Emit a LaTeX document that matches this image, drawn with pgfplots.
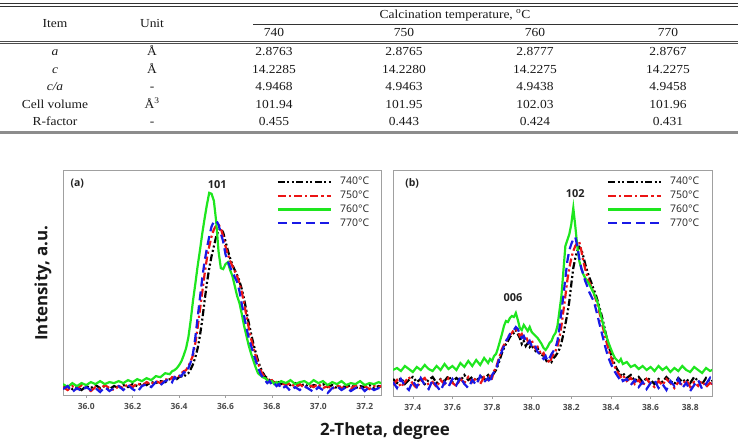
\documentclass[border=0pt]{standalone}
\usepackage{fontspec}
\setmainfont{Liberation Serif}
\newfontfamily\tabfont[FakeStretch=1.1]{Liberation Serif}
\newfontfamily\osans{Open Sans}
\usepackage{pgfplots}
\usepackage{pgfplotstable}
\pgfplotsset{compat=1.18}

\definecolor{mygreen}{RGB}{30,230,30}
\definecolor{myred}{RGB}{235,20,20}
\definecolor{myblue}{RGB}{25,25,230}
\definecolor{framegray}{RGB}{160,160,160}
\definecolor{tickgray}{RGB}{75,75,75}
\definecolor{txtgray}{RGB}{35,35,35}

\pgfplotstableread{
x t740 t750 t760 t770
35.90 7 8 11 6
35.92 9 5 8 9
35.94 6 9 12 3
35.96 8 6 9 7
35.98 5 10 12 4
36.00 9 7 10 8
36.02 7 4 13 5
36.04 10 8 11 7
36.06 7 6 14 3
36.08 9 10 11 8
36.10 6 7 13 4
36.12 9 5 12 7
36.14 7 9 14 9
36.16 10 7 12 5
36.18 8 11 15 10
36.20 11 8 13 6
36.22 9 12 16 3
36.24 12 9 14 9
36.26 10 13 17 11
36.28 13 11 15 8
36.30 12 14 19 13
36.32 14 12 18 10
36.34 13 16 22 14
36.36 16 15 21 16
36.37 15 18 24 13
36.38 17 17 25 18
36.39 16 20 27 16
36.40 18 19 30 20
36.41 19 22 34 19
36.42 18 24 40 23
36.43 21 25 47 22
36.44 22 29 58 27
36.45 26 34 75 33
36.46 31 40 95 42
36.47 38 52 112 58
36.48 47 68 130 78
36.49 60 86 146 98
36.50 76 104 163 118
36.51 95 122 178 135
36.52 113 138 192 148
36.53 128 150 204 160
36.54 140 160 203 170
36.55 150 167 196 175
36.56 160 171 175 176
36.57 166 172 145 172
36.58 168 168 128 163
36.59 164 160 127 155
36.60 155 150 132 142
36.61 146 142 134 135
36.62 138 135 126 129
36.63 131 130 120 124
36.64 126 125 110 119
36.65 121 120 100 114
36.66 115 113 93 105
36.67 107 104 82 92
36.68 97 93 70 80
36.69 85 80 60 68
36.70 73 68 50 58
36.71 62 57 42 50
36.72 52 48 35 42
36.73 43 40 28 35
36.74 35 32 22 28
36.75 28 26 20 22
36.76 23 21 18 18
36.77 19 18 17 15
36.78 17 16 15 12
36.79 15 14 13 14
36.80 14 15 14 10
36.81 13 12 11 12
36.82 12 13 13 9
36.83 13 10 12 11
36.84 11 12 14 6
36.86 12 10 12 9
36.88 10 12 15 4
36.90 12 8 11 8
36.92 9 11 13 5
36.94 11 7 14 9
36.96 8 10 11 6
36.98 10 8 15 3
37.00 9 11 12 8
37.02 11 7 14 5
37.04 8 9 10 2
37.06 10 6 13 7
37.08 7 10 11 9
37.10 9 7 14 5
37.12 8 9 10 8
37.14 10 6 12 4
37.16 7 10 11 7
37.18 9 7 14 9
37.20 8 9 10 4
37.22 10 6 12 8
37.24 7 9 11 5
37.26 9 8 13 7
37.28 8 10 11 6
}\tabA

\pgfplotstableread{
x t740 t750 t760 t770
37.30 17 11 26 14
37.32 13 16 28 8
37.34 18 9 25 17
37.36 12 14 30 10
37.38 16 19 27 6
37.40 19 12 24 15
37.42 14 8 29 9
37.44 17 15 26 18
37.46 12 18 31 11
37.48 16 11 27 7
37.50 19 14 25 16
37.52 13 9 30 10
37.54 17 16 26 5
37.56 15 12 32 14
37.58 20 18 27 9
37.60 14 13 30 17
37.62 18 10 26 11
37.64 15 17 33 19
37.66 21 13 29 12
37.68 16 19 35 8
37.70 19 14 30 16
37.72 15 18 36 11
37.74 20 12 31 20
37.76 17 19 38 14
37.78 21 16 33 18
37.79 18 20 37 13
37.80 20 18 35 21
37.81 23 25 40 24
37.82 26 28 42 27
37.83 31 35 48 33
37.84 37 41 55 40
37.85 43 47 62 45
37.86 48 51 70 50
37.87 52 54 75 55
37.88 55 59 74 58
37.89 59 61 78 62
37.90 61 63 80 64
37.91 63 66 79 66
37.92 66 67 83 69
37.93 62 64 76 67
37.94 58 60 68 62
37.95 52 62 66 58
37.96 55 57 71 60
37.97 50 60 68 55
37.98 53 55 65 52
37.99 49 53 69 55
38.00 51 56 64 50
38.01 47 50 62 47
38.02 45 47 60 49
38.03 48 49 58 44
38.04 43 45 55 42
38.05 40 41 52 39
38.06 42 43 48 37
38.07 37 38 46 40
38.08 33 36 49 35
38.09 36 33 53 38
38.10 34 38 55 42
38.11 38 42 60 45
38.12 40 45 63 48
38.13 43 50 70 55
38.14 47 58 85 68
38.15 53 70 100 85
38.16 62 85 125 100
38.17 72 100 150 118
38.18 82 116 156 135
38.19 95 128 162 146
38.20 112 138 172 152
38.21 128 145 188 157
38.22 138 150 170 159
38.23 145 153 150 150
38.24 149 154 135 138
38.25 147 146 128 128
38.26 140 135 122 122
38.27 132 127 118 115
38.28 125 120 115 110
38.29 119 114 112 104
38.30 114 110 108 100
38.31 108 104 104 96
38.32 103 99 100 90
38.33 97 92 95 82
38.34 90 85 88 74
38.35 83 77 80 66
38.36 75 68 72 58
38.37 66 60 64 50
38.38 57 52 58 43
38.39 49 45 52 37
38.40 42 39 47 32
38.41 36 33 42 28
38.42 31 29 38 24
38.43 27 25 36 21
38.44 24 22 34 18
38.45 21 19 37 20
38.46 23 21 32 15
38.48 18 15 34 17
38.50 21 18 29 11
38.52 15 12 31 16
38.54 19 16 27 9
38.56 14 10 30 14
38.58 18 17 26 7
38.60 16 12 29 13
38.62 12 9 25 16
38.64 17 15 30 8
38.66 14 11 26 12
38.68 19 17 29 6
38.70 15 13 24 15
38.72 12 8 28 10
38.74 18 14 25 17
38.76 14 11 30 8
38.78 17 16 26 13
38.80 13 9 24 5
38.82 19 14 29 11
38.84 15 10 26 16
38.86 12 15 23 7
38.88 18 9 28 12
38.90 14 13 25 18
38.92 16 11 27 10
}\tabB

\pgfplotsset{
  s740/.style={draw=black, line width=2.2bp, dash pattern=on 7bp off 2.5bp on 2bp off 2.5bp on 2bp off 2.5bp},
  s750/.style={draw=myred, line width=2.2bp, dash pattern=on 8bp off 3bp on 2.2bp off 3bp},
  s760/.style={draw=mygreen, line width=2.2bp},
  s770/.style={draw=myblue, line width=2.2bp, dash pattern=on 9bp off 5bp},
  xrdaxis/.style={
    anchor=south west, scale only axis,
    ymin=0, ytick=\empty,
    axis line style={draw=framegray, line width=0.8bp},
    tick style={draw=framegray, line width=0.6bp},
    tick align=outside, major tick length=2.5bp,
    xtick pos=lower,
    /pgf/number format/assume math mode=true,
    x tick label style={font=\fontsize{8.5}{9}\selectfont\osans\bfseries, text=tickgray,
      /pgf/number format/fixed, /pgf/number format/fixed zerofill, /pgf/number format/precision=1, yshift=-2.5bp},
    legend style={draw=none, fill=none, anchor=north west, inner sep=0pt,
      font=\fontsize{10.5}{11}\selectfont\osans,
      nodes={inner sep=0pt, text height=7.5bp, text depth=2bp},
      row sep=4.2bp, column sep=8bp},
    legend cell align=left,
    legend image code/.code={\draw[##1] (0bp,0bp) -- (53bp,0bp);},
  },
}

\begin{document}
\begin{tikzpicture}
\path[use as bounding box] (0bp,0bp) rectangle (738bp,-440bp);

% ---- table ----
\begin{scope}[every node/.style={font=\fontsize{12.3}{13}\selectfont\tabfont, text=black!90, inner sep=0pt, text height=8.5bp, text depth=2.5bp}]
\draw[line width=0.8bp, black!80] (0bp,-3.5bp) -- (738bp,-3.5bp);
\draw[line width=0.8bp, black!80] (0bp,-6bp) -- (738bp,-6bp);
\draw[line width=0.7bp, black!80] (253bp,-24.5bp) -- (738bp,-24.5bp);
\draw[line width=0.8bp, black!70] (0bp,-41.5bp) -- (738bp,-41.5bp);
\draw[line width=0.8bp, black!70] (0bp,-43.7bp) -- (738bp,-43.7bp);
\draw[line width=2.2bp, black!45] (0bp,-132.5bp) -- (738bp,-132.5bp);

\node at (455bp,-15bp) {Calcination temperature, \textsuperscript{o}C};
\node at (55bp,-24bp) {Item};
\node at (152bp,-24bp) {Unit};
\node at (274bp,-33bp) {740};
\node at (404bp,-33bp) {750};
\node at (535bp,-33bp) {760};
\node at (668bp,-33bp) {770};

\node at (55bp,-52bp) {\itshape a};
\node at (152bp,-52bp) {Å};
\node at (274bp,-52bp) {2.8763};
\node at (404bp,-52bp) {2.8765};
\node at (535bp,-52bp) {2.8777};
\node at (668bp,-52bp) {2.8767};

\node at (55bp,-70bp) {\itshape c};
\node at (152bp,-70bp) {Å};
\node at (274bp,-70bp) {14.2285};
\node at (404bp,-70bp) {14.2280};
\node at (535bp,-70bp) {14.2275};
\node at (668bp,-70bp) {14.2275};

\node at (55bp,-87bp) {\itshape c/a};
\node at (152bp,-87bp) {-};
\node at (274bp,-87bp) {4.9468};
\node at (404bp,-87bp) {4.9463};
\node at (535bp,-87bp) {4.9438};
\node at (668bp,-87bp) {4.9458};

\node at (55bp,-105bp) {Cell volume};
\node at (152bp,-105bp) {Å\textsuperscript{3}};
\node at (274bp,-105bp) {101.94};
\node at (404bp,-105bp) {101.95};
\node at (535bp,-105bp) {102.03};
\node at (668bp,-105bp) {101.96};

\node at (55bp,-122bp) {R-factor};
\node at (152bp,-122bp) {-};
\node at (274bp,-122bp) {0.455};
\node at (404bp,-122bp) {0.443};
\node at (535bp,-122bp) {0.424};
\node at (668bp,-122bp) {0.431};
\end{scope}

% ---- panel (a) ----
\begin{axis}[xrdaxis, at={(63bp,-395bp)}, width=318bp, height=225bp,
  xmin=35.9, xmax=37.27, ymax=227,
  xtick={36.0,36.2,36.4,36.6,36.8,37.0,37.2},
  legend style={at={(axis description cs:0.672,0.968)}}]
\addplot[s740] table[x=x, y=t740] {\tabA};
\addplot[s750] table[x=x, y=t750] {\tabA};
\addplot[s760] table[x=x, y=t760] {\tabA};
\addplot[s770] table[x=x, y=t770] {\tabA};
\legend{\textcolor{txtgray}{740°C}, \textcolor{txtgray}{750°C}, \textcolor{txtgray}{760°C}, \textcolor{txtgray}{770°C}}
\node[font=\fontsize{10.5}{11}\selectfont\osans\bfseries, text=txtgray] at (axis description cs:0.045,0.94) {(a)};
\node[font=\fontsize{11}{12}\selectfont\osans\bfseries, text=txtgray] at (axis cs:36.565,212) {101};
\end{axis}

% ---- panel (b) ----
\begin{axis}[xrdaxis, at={(393bp,-396bp)}, width=319bp, height=226bp,
  xmin=37.3, xmax=38.91, ymax=226,
  xtick={37.4,37.6,37.8,38.0,38.2,38.4,38.6,38.8},
  legend style={at={(axis description cs:0.67,0.968)}}]
\addplot[s740] table[x=x, y=t740] {\tabB};
\addplot[s750] table[x=x, y=t750] {\tabB};
\addplot[s760] table[x=x, y=t760] {\tabB};
\addplot[s770] table[x=x, y=t770] {\tabB};
\legend{\textcolor{txtgray}{740°C}, \textcolor{txtgray}{750°C}, \textcolor{txtgray}{760°C}, \textcolor{txtgray}{770°C}}
\node[font=\fontsize{10.5}{11}\selectfont\osans\bfseries, text=txtgray] at (axis description cs:0.06,0.94) {(b)};
\node[font=\fontsize{11}{12}\selectfont\osans\bfseries, text=txtgray] at (axis cs:38.22,202) {102};
\node[font=\fontsize{11}{12}\selectfont\osans\bfseries, text=txtgray] at (axis cs:37.906,98) {006};
\end{axis}

% ---- axis labels ----
\node[font=\fontsize{17}{18}\selectfont\osans\bfseries, text=black!90, rotate=90] at (43bp,-283bp) {Intensity, a.u.};
\node[font=\fontsize{17}{18}\selectfont\osans\bfseries, text=black!90] at (385bp,-431bp) {2-Theta, degree};
\end{tikzpicture}
\end{document}
